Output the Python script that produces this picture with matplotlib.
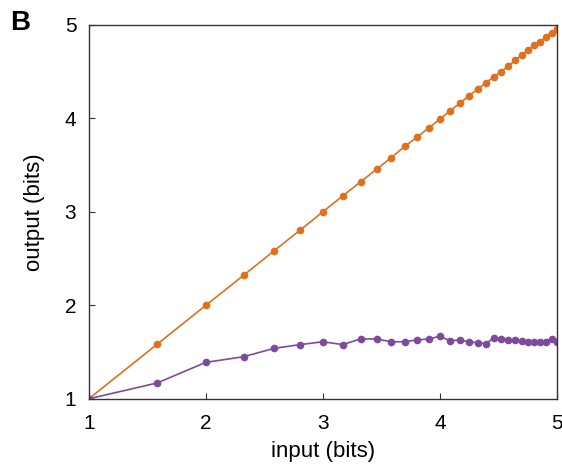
import numpy as np
import matplotlib.pyplot as plt

plt.rcParams['font.family'] = ['Liberation Sans', 'DejaVu Sans']

# input entropy (bits)
input_bits = [1.0, 1.585, 2.0, 2.322, 2.585, 2.807, 3.0, 3.17, 3.322, 3.459, 3.585,
              3.7, 3.807, 3.907, 4.0, 4.087, 4.17, 4.248, 4.322, 4.392, 4.459,
              4.524, 4.585, 4.644, 4.7, 4.755, 4.807, 4.858, 4.907, 4.954, 5.0]

# output for the two channels
out_orange = [1.0, 1.585, 2.0, 2.32, 2.585, 2.805, 3.0, 3.17, 3.32, 3.455, 3.58,
              3.7, 3.8, 3.9, 3.99, 4.08, 4.16, 4.24, 4.31, 4.38, 4.44,
              4.5, 4.56, 4.62, 4.68, 4.73, 4.78, 4.82, 4.87, 4.91, 4.95]
out_purple = [1.0, 1.17, 1.39, 1.45, 1.54, 1.58, 1.61, 1.58, 1.64, 1.64, 1.61,
              1.61, 1.63, 1.64, 1.67, 1.62, 1.63, 1.61, 1.60, 1.59, 1.65,
              1.64, 1.63, 1.63, 1.62, 1.61, 1.61, 1.61, 1.61, 1.64, 1.61]

fig = plt.figure(figsize=(5.62, 4.67), dpi=100)
ax = fig.add_axes([0.158, 0.146, 0.833, 0.801])

ax.plot(input_bits, out_orange, '-o', color='#E0701E', lw=1.2, ms=4.5)
ax.plot(input_bits, out_purple, '-o', color='#7E4A9E', lw=1.2, ms=4.5)

ax.set_xlim(1, 5)
ax.set_ylim(1, 5)
ax.set_xticks([1, 2, 3, 4, 5])
ax.set_yticks([1, 2, 3, 4, 5])
ax.tick_params(direction='in', length=4, labelsize=15, color='#333333')
ax.tick_params(axis='x', pad=11)
ax.tick_params(axis='y', pad=9)
for s in ax.spines.values():
    s.set_color('#333333')
    s.set_linewidth(1.0)

ax.set_xlabel('input (bits)', fontsize=16, labelpad=6)
ax.set_ylabel('output (bits)', fontsize=16, labelpad=14)

fig.text(0.018, 0.935, 'B', fontsize=20, fontweight='bold')

fig.savefig('out.png', dpi=100)
